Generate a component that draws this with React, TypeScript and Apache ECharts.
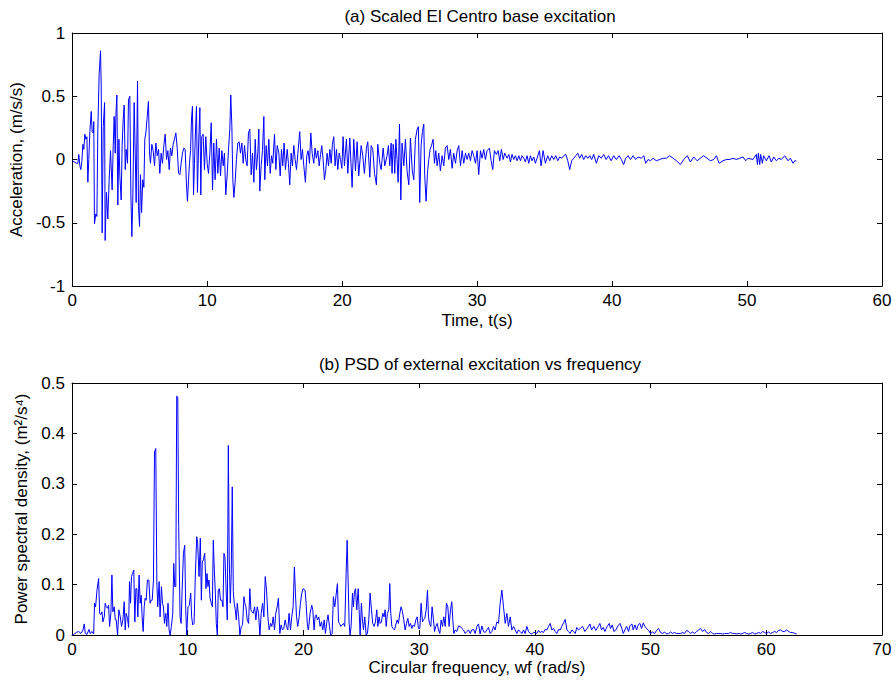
import React, { useEffect, useRef } from "react";
import * as echarts from "echarts";

// (a) Scaled El Centro base excitation: [time (s), acceleration (m/s/s)]
const accStrongPhase: [number, number][] = [
  [0.00,-0.01],[0.17,-0.02],[0.32,-0.03],[0.42,-0.03],[0.49,0.04],[0.57,-0.05],[0.64,-0.08],[0.72,-0.01],[0.79,0.12],[0.86,0.08],[0.94,0.20],[1.01,0.16],[1.09,0.18],[1.16,-0.18],[1.23,0.00],[1.31,0.22],[1.41,0.38],[1.48,0.22],[1.56,0.21],[1.60,0.30],[1.65,-0.51],[1.75,-0.43],[1.83,-0.45],[1.90,0.24],[2.00,0.68],[2.10,0.86],[2.15,0.58],[2.22,-0.58],[2.30,0.26],[2.40,0.45],[2.44,-0.64],[2.54,-0.26],[2.64,-0.47],[2.74,-0.16],[2.84,0.07],[2.96,-0.24],[3.04,0.11],[3.11,0.34],[3.19,0.05],[3.23,0.33],[3.31,0.51],[3.38,-0.36],[3.46,0.16],[3.53,-0.13],[3.63,-0.32],[3.70,0.11],[3.78,0.32],[3.85,0.43],[3.93,-0.08],[4.00,0.08],[4.10,-0.03],[4.17,0.47],[4.27,0.50],[4.35,-0.28],[4.42,-0.61],[4.49,-0.32],[4.59,0.45],[4.67,0.05],[4.74,-0.34],[4.84,0.62],[4.91,-0.37],[4.99,-0.53],[5.06,-0.12],[5.14,-0.42],[5.23,-0.16],[5.31,-0.22],[5.38,0.16],[5.46,0.21],[5.56,0.34],[5.65,0.46],[5.73,0.05],[5.80,-0.03],[5.90,0.12],[6.00,0.07],[6.10,-0.05],[6.20,0.13],[6.30,0.03],[6.40,0.08],[6.49,-0.11],[6.59,0.05],[6.69,-0.03],[6.79,0.11],[6.89,0.20],[6.99,0.00],[7.09,0.07],[7.19,-0.08],[7.28,0.09],[7.38,0.03],[7.48,0.12],[7.58,0.16],[7.68,0.21],[7.78,0.09],[7.88,-0.11],[7.98,-0.12],[8.07,-0.03],[8.17,0.05],[8.27,0.09],[8.37,0.08],[8.47,-0.21],[8.54,-0.33],[8.62,-0.16],[8.69,-0.03],[8.77,0.07],[8.84,0.32],[8.91,0.42],[8.99,-0.28],[9.06,-0.03],[9.14,0.24],[9.21,0.42],[9.28,-0.26],[9.36,0.09],[9.46,0.41],[9.53,-0.28],[9.60,0.18],[9.70,0.20],[9.80,-0.08],[9.90,0.18],[10.00,-0.03],[10.10,-0.11],[10.20,0.05],[10.30,0.29],[10.40,-0.24],[10.49,0.13],[10.59,-0.16],[10.69,0.16],[10.79,-0.11],[10.89,0.09],[10.99,-0.13],[11.09,0.07],[11.19,-0.05],[11.28,0.05],[11.38,-0.28],[11.48,-0.13],[11.58,0.08],[11.68,0.24],[11.75,0.51],[11.83,0.26],[11.90,-0.16],[11.98,-0.30]
];
const accMidPhase: [number, number][] = [
  [12.07,-0.18],[12.17,0.00],[12.27,0.13],[12.37,0.14],[12.47,0.05],[12.57,0.13],[12.67,-0.03],[12.77,0.11],[12.86,0.00],[12.96,-0.05],[13.06,0.21],[13.16,0.24],[13.26,-0.12],[13.36,0.05],[13.46,-0.18],[13.56,0.16],[13.65,-0.08],[13.75,0.05],[13.83,0.24],[13.90,-0.25],[14.00,-0.05],[14.10,0.07],[14.20,0.34],[14.27,-0.16],[14.37,0.11],[14.47,-0.05],[14.57,0.16],[14.67,-0.11],[14.77,0.03],[14.86,-0.03],[14.99,0.20],[15.09,-0.08],[15.19,0.11],[15.31,0.05],[15.41,-0.13],[15.51,0.08],[15.60,-0.05],[15.70,0.13],[15.80,-0.08],[15.93,0.08],[16.02,-0.03],[16.12,-0.20],[16.22,0.05],[16.32,-0.05],[16.42,0.11],[16.52,0.00],[16.62,-0.08],[16.72,0.05],[16.86,0.22],[16.96,0.00],[17.06,0.08],[17.16,-0.05],[17.28,-0.18],[17.38,0.03],[17.48,0.07],[17.58,-0.03],[17.68,0.21],[17.78,0.05],[17.90,-0.03],[17.99,0.09],[18.09,0.01],[18.20,0.07],[18.30,-0.05],[18.40,0.04],[18.49,0.11],[18.59,0.00],[18.69,-0.16],[18.79,-0.08],[18.89,0.05],[18.99,-0.05],[19.09,0.08],[19.19,-0.03],[19.28,0.12],[19.38,0.18],[19.48,-0.05],[19.58,0.08],[19.68,-0.08],[19.78,0.05],[19.88,0.00],[19.98,-0.07],[20.07,0.18],[20.17,-0.05],[20.32,0.16],[20.42,-0.11],[20.57,0.17],[20.74,-0.22],[20.86,0.16],[20.99,-0.09],[21.11,0.14],[21.23,-0.13],[21.41,0.11],[21.53,0.03],[21.65,-0.11],[21.80,0.09],[21.90,0.14],[22.05,-0.14],[22.15,0.11],[22.27,0.08],[22.40,-0.11],[22.54,-0.20],[22.64,0.12],[22.79,-0.03],[22.89,-0.08],[23.04,0.09],[23.16,-0.05],[23.33,0.03],[23.43,0.11],[23.53,-0.05],[23.63,0.13],[23.70,-0.11],[23.78,0.12],[23.83,0.08],[23.90,-0.11],[23.98,0.16],[24.07,0.00],[24.15,-0.18],[24.25,0.28],[24.35,-0.32],[24.44,0.13],[24.57,-0.05],[24.69,0.16],[24.81,-0.09],[24.94,-0.20],[25.06,0.17],[25.19,-0.08],[25.31,-0.16],[25.43,0.16],[25.56,0.24],[25.65,0.26],[25.75,-0.34],[25.85,0.11],[25.95,0.22],[26.05,0.28],[26.12,-0.13],[26.22,-0.33],[26.32,-0.11],[26.42,0.00],[26.52,0.08],[26.62,0.11],[26.74,0.16],[26.84,-0.03],[26.94,0.07]
];
const accTailPhase: [number, number][] = [
  [27.04,-0.05],[27.16,0.05],[27.28,-0.09],[27.41,0.03],[27.53,-0.05],[27.65,0.09],[27.78,0.11],[27.90,0.00],[28.02,0.08],[28.15,-0.07],[28.27,0.05],[28.40,-0.03],[28.52,0.07],[28.64,0.11],[28.77,-0.05],[28.89,0.07],[29.01,-0.03],[29.14,0.05],[29.26,0.00],[29.38,0.05],[29.51,-0.01],[29.63,0.07],[29.75,0.03],[29.88,-0.03],[30.00,0.07],[30.12,-0.12],[30.25,0.07],[30.37,0.01],[30.49,0.08],[30.62,0.00],[30.74,0.07],[30.91,0.09],[31.04,-0.01],[31.16,-0.08],[31.28,0.07],[31.43,0.04],[31.56,0.07],[31.68,-0.01],[31.80,0.08],[31.93,0.00],[32.05,0.05],[32.22,0.01],[32.35,0.04],[32.47,-0.02],[32.59,0.04],[32.72,0.00],[32.84,0.03],[32.96,-0.01],[33.09,0.03],[33.21,-0.01],[33.33,0.03],[33.46,0.01],[33.58,-0.02],[33.70,0.03],[33.83,-0.03],[33.95,0.03],[34.07,-0.01],[34.20,0.02],[34.32,-0.03],[34.44,0.01],[34.62,0.07],[34.74,-0.05],[34.89,0.07],[35.06,-0.03],[35.23,0.03],[35.38,-0.01],[35.53,0.03],[35.68,0.00],[35.83,0.03],[35.98,-0.01],[36.12,0.02],[36.27,0.01],[36.42,0.03],[36.57,0.04],[36.72,-0.01],[36.86,-0.08],[37.01,-0.01],[37.16,0.01],[37.31,0.03],[37.46,0.05],[37.60,0.01],[37.75,0.04],[37.90,0.00],[38.05,0.03],[38.20,0.01],[38.35,0.03],[38.49,0.00],[38.64,0.04],[38.84,-0.03],[39.01,0.03],[39.19,0.01],[39.38,0.04],[39.56,0.00],[39.73,0.03],[39.93,-0.01],[40.12,0.03],[40.32,0.00],[40.52,0.03],[40.69,0.00],[40.86,-0.04],[41.01,0.01],[41.19,0.03],[41.36,0.00],[41.56,0.03],[41.75,0.00],[41.93,0.02],[42.17,0.01],[42.35,0.03],[42.49,-0.03],[42.67,0.00],[42.84,-0.01],[43.04,0.01],[43.28,-0.01],[43.53,0.00],[43.78,0.01],[44.02,0.01],[44.27,0.03],[44.52,0.01],[44.77,-0.01],[45.06,-0.04],[45.31,0.00],[45.58,0.03],[45.80,-0.02],[46.05,0.02],[46.30,-0.01],[46.54,0.01],[46.79,0.03],[47.04,0.01],[47.28,-0.01],[47.53,0.00],[47.73,0.03],[47.93,-0.03],[48.22,-0.01],[48.47,0.00],[48.72,0.00],[48.96,0.01],[49.21,0.00],[49.46,0.01],[49.70,0.02],[49.90,-0.01],[50.07,0.01],[50.44,0.00],[50.69,0.04],[50.77,-0.04],[50.84,0.05],[50.94,-0.04],[51.01,0.04],[51.14,-0.03],[51.23,0.03],[51.43,-0.01],[51.63,0.03],[51.80,-0.02],[51.98,0.02],[52.17,-0.01],[52.37,0.01],[52.54,0.00],[52.79,0.03],[53.04,-0.01],[53.21,0.01],[53.41,-0.03],[53.53,-0.01],[53.65,-0.01]
];

// (b) PSD of external excitation: [circular frequency (rad/s), PSD (m^2/s^4)]
const psdLowBand: [number, number][] = [
  [0,0],[0.14,0.001],[0.37,0.005],[0.57,0.007],[0.78,0.003],[0.95,0.010],[1.06,0.022],[1.15,0.003],[1.29,0.001],[1.47,0.011],[1.58,0.003],[1.72,0.007],[1.87,0.002],[1.95,0.063],[2.04,0.056],[2.16,0.089],[2.30,0.112],[2.39,0.043],[2.47,0.040],[2.59,0.046],[2.67,0.026],[2.79,0.036],[2.87,0.063],[2.96,0.056],[3.07,0.053],[3.16,0.059],[3.25,0.017],[3.36,0.043],[3.45,0.119],[3.53,0.046],[3.65,0.056],[3.74,0.030],[3.82,0.030],[3.94,0.000],[4.05,0.050],[4.17,0.036],[4.28,0.017],[4.40,0.030],[4.51,0.066],[4.60,0.010],[4.68,0.043],[4.80,0.033],[4.89,0.015],[4.97,0.106],[5.06,0.063],[5.14,0.116],[5.23,0.122],[5.34,0.129],[5.43,0.026],[5.52,0.092],[5.60,0.092],[5.69,0.036],[5.80,0.119],[5.89,0.063],[5.98,0.079],[6.06,0.036],[6.15,0.007],[6.24,0.056],[6.32,0.073],[6.41,0.069],[6.52,0.109],[6.64,0.109],[6.75,0.063],[6.84,0.069],[6.93,0.069],[7.04,0.109],[7.13,0.363],[7.24,0.370],[7.33,0.106],[7.41,0.056],[7.53,0.106],[7.61,0.036],[7.73,0.096],[7.82,0.063],[7.90,0.056],[7.99,0.023],[8.10,0.043],[8.19,0.017],[8.30,0.063],[8.39,0.010],[8.48,0.000],[8.59,0.017],[8.71,0.043],[8.79,0.142],[8.88,0.096],[8.97,0.096],[9.05,0.474],[9.14,0.472],[9.22,0.215],[9.34,0.036],[9.43,0.023],[9.51,0.083],[9.63,0.162],[9.74,0.178],[9.83,0.050],[9.91,0.000]
];
const psdMidBand: [number, number][] = [
  [10.03,0.056],[10.14,0.059],[10.26,0.083],[10.34,0.036],[10.43,0.020],[10.55,0.023],[10.66,0.119],[10.78,0.195],[10.86,0.182],[10.98,0.116],[11.09,0.192],[11.18,0.069],[11.26,0.145],[11.35,0.149],[11.47,0.162],[11.58,0.092],[11.67,0.122],[11.75,0.096],[11.84,0.109],[11.93,0.073],[12.04,0.063],[12.13,0.056],[12.21,0.188],[12.30,0.129],[12.39,0.083],[12.47,0.023],[12.56,0.000],[12.64,0.089],[12.73,0.092],[12.84,0.069],[12.96,0.069],[13.05,0.056],[13.13,0.162],[13.22,0.155],[13.30,0.102],[13.42,0.030],[13.51,0.376],[13.59,0.149],[13.68,0.063],[13.76,0.122],[13.85,0.294],[13.94,0.086],[14.02,0.063],[14.11,0.050],[14.20,0.030],[14.28,0.063],[14.40,0.036],[14.51,0.000],[14.63,0.017],[14.74,0.020],[14.86,0.076],[14.94,0.063],[15.03,0.056],[15.14,0.030],[15.26,0.023],[15.37,0.092],[15.46,0.050],[15.55,0.046],[15.66,0.043],[15.78,0.056],[15.89,0.030],[16.01,0.056],[16.12,0.043],[16.24,0.000],[16.35,0.043],[16.47,0.063],[16.58,0.036],[16.70,0.116],[16.81,0.089],[16.93,0.036],[17.04,0.010],[17.16,0.023],[17.27,0.017],[17.39,0.036],[17.50,0.010],[17.61,0.043],[17.73,0.056],[17.84,0.073],[17.96,0.003],[18.07,0.020],[18.19,0.010],[18.30,0.013],[18.42,0.030],[18.53,0.017],[18.65,0.010],[18.76,0.043],[18.88,0.010],[18.99,0.036],[19.11,0.056],[19.22,0.135],[19.31,0.083],[19.40,0.036],[19.51,0.017],[19.63,0.036],[19.74,0.063],[19.86,0.083],[19.97,0.092]
];
const psdHighBand: [number, number][] = [
  [20.14,0.089],[20.23,0.063],[20.35,0.017],[20.43,0.010],[20.58,0.043],[20.72,0.059],[20.81,0.050],[20.92,0.010],[21.01,0.036],[21.10,0.040],[21.21,0.030],[21.33,0.036],[21.44,0.017],[21.56,0.026],[21.67,0.010],[21.79,0.030],[21.90,0.003],[22.02,0.026],[22.13,0.040],[22.25,0.017],[22.36,0.000],[22.48,0.003],[22.59,0.076],[22.71,0.056],[22.82,0.079],[22.94,0.102],[23.03,0.026],[23.11,0.023],[23.23,0.017],[23.34,0.020],[23.46,0.023],[23.57,0.017],[23.69,0.122],[23.78,0.188],[23.86,0.109],[23.95,0.023],[24.03,0.000],[24.12,0.017],[24.24,0.083],[24.32,0.056],[24.41,0.086],[24.50,0.092],[24.61,0.050],[24.73,0.092],[24.81,0.050],[24.90,0.000],[25.01,0.063],[25.10,0.030],[25.19,0.010],[25.30,0.036],[25.42,0.000],[25.53,0.003],[25.65,0.030],[25.76,0.083],[25.88,0.050],[25.99,0.023],[26.11,0.017],[26.22,0.026],[26.34,0.050],[26.43,0.017],[26.54,0.036],[26.63,0.023],[26.74,0.026],[26.86,0.043],[26.97,0.036],[27.06,0.050],[27.15,0.017],[27.26,0.043],[27.38,0.050],[27.46,0.102],[27.55,0.043],[27.64,0.017],[27.75,0.013],[27.87,0.010],[27.98,0.020],[28.10,0.030],[28.21,0.023],[28.33,0.043],[28.44,0.056],[28.56,0.046],[28.67,0.030],[28.79,0.010],[28.91,0.023],[29.02,0.033],[29.14,0.017],[29.25,0.023],[29.37,0.013],[29.48,0.020],[29.60,0.017],[29.71,0.030],[29.83,0.036],[29.94,0.013],[30.06,0.013],[30.17,0.063],[30.29,0.026],[30.37,0.030],[30.49,0.033],[30.61,0.050],[30.72,0.089],[30.81,0.036],[30.89,0.023],[31.01,0.017],[31.12,0.056],[31.24,0.030],[31.33,0.007],[31.44,0.017],[31.56,0.023],[31.67,0.010],[31.79,0.003],[31.90,0.030],[32.02,0.017],[32.13,0.036],[32.25,0.017],[32.36,0.063],[32.48,0.056],[32.59,0.017],[32.71,0.050],[32.82,0.066],[32.91,0.030],[33.00,0.003],[33.11,0.010],[33.26,0.007],[33.40,0.018],[33.55,0.017],[33.69,0.013],[33.83,0.010],[33.98,0.003],[34.12,0.007],[34.27,0.010],[34.41,0.003],[34.55,0.010],[34.70,0.011],[34.84,0.003],[34.99,0.017],[35.13,0.022],[35.27,0.002],[35.42,0.018],[35.56,0.007],[35.71,0.005],[35.85,0.010],[35.99,0.015],[36.14,0.003],[36.28,0.007],[36.43,0.017],[36.57,0.010],[36.71,0.026],[36.86,0.023],[37.00,0.063],[37.15,0.089],[37.29,0.056],[37.44,0.023],[37.58,0.043],[37.72,0.017],[37.87,0.036],[38.01,0.010],[38.16,0.017],[38.30,0.010],[38.44,0.003],[38.59,0.010],[38.73,0.007],[38.88,0.003],[39.02,0.010],[39.16,0.003],[39.31,0.017],[39.45,0.007],[39.60,0.003],[39.74,0.002],[39.88,0.005],[40.03,0.005],[40.17,0.003],[40.32,0.009],[40.46,0.005],[40.61,0.007],[40.75,0.005],[40.89,0.011],[41.04,0.010],[41.18,0.017],[41.33,0.023],[41.47,0.010],[41.61,0.013],[41.76,0.007],[41.90,0.003],[42.05,0.011],[42.19,0.010],[42.33,0.017],[42.48,0.024],[42.62,0.031],[42.77,0.010],[42.91,0.007],[43.05,0.003],[43.20,0.010],[43.34,0.007],[43.49,0.003],[43.63,0.015],[43.78,0.010],[43.92,0.013]
];
const psdTailBand: [number, number][] = [
  [44.12,0.017],[44.32,0.007],[44.52,0.013],[44.76,0.022],[44.90,0.010],[45.10,0.017],[45.27,0.009],[45.48,0.017],[45.62,0.023],[45.76,0.010],[45.91,0.015],[46.05,0.007],[46.25,0.017],[46.43,0.023],[46.54,0.013],[46.69,0.020],[46.83,0.007],[47.00,0.010],[47.18,0.018],[47.35,0.023],[47.52,0.013],[47.64,0.003],[47.78,0.010],[47.93,0.017],[48.10,0.007],[48.21,0.018],[48.39,0.022],[48.50,0.010],[48.65,0.020],[48.79,0.010],[48.93,0.020],[49.08,0.023],[49.22,0.013],[49.37,0.024],[49.51,0.017],[49.65,0.013],[49.83,0.009],[50.00,0.003],[50.17,0.006],[50.35,0.003],[50.52,0.009],[50.69,0.013],[50.86,0.005],[51.04,0.003],[51.21,0.006],[51.38,0.002],[51.56,0.003],[51.73,0.006],[51.90,0.003],[52.07,0.005],[52.25,0.003],[52.42,0.003],[52.59,0.003],[52.77,0.005],[52.94,0.003],[53.11,0.009],[53.29,0.007],[53.46,0.003],[53.63,0.006],[53.80,0.003],[53.98,0.007],[54.15,0.010],[54.32,0.013],[54.50,0.007],[54.67,0.011],[54.84,0.005],[55.01,0.003],[55.19,0.007],[55.36,0.003],[55.53,0.002],[55.71,0.003],[55.88,0.003],[56.05,0.003],[56.22,0.002],[56.40,0.003],[56.57,0.003],[56.74,0.003],[56.92,0.005],[57.09,0.003],[57.26,0.003],[57.44,0.002],[57.61,0.003],[57.78,0.002],[57.95,0.003],[58.13,0.005],[58.30,0.003],[58.47,0.002],[58.65,0.003],[58.82,0.005],[58.99,0.002],[59.16,0.003],[59.34,0.005],[59.51,0.003],[59.68,0.007],[59.86,0.005],[60.03,0.003],[60.20,0.006],[60.37,0.003],[60.55,0.005],[60.72,0.007],[60.89,0.005],[61.07,0.009],[61.24,0.010],[61.41,0.007],[61.59,0.007],[61.76,0.010],[61.93,0.007],[62.10,0.005],[62.28,0.005],[62.48,0.003],[62.62,0.002]
];

const titleTop = "(a) Scaled El Centro base excitation";
const titleBottom = "(b) PSD of external excitation vs frequency";
const xNameTop = "Time, t(s)";
const yNameTop = "Acceleration, (m/s/s)";
const xNameBottom = "Circular frequency, wf (rad/s)";
const yNameBottom = "Power spectral density, (m\u00B2/s\u2074)";

const FONT = "'Liberation Sans', Arial, Helvetica, sans-serif";
const FS = 17;

export default function App() {
  const ref = useRef<HTMLDivElement>(null);
  useEffect(() => {
    if (!ref.current) return;
    const chart = echarts.init(ref.current, undefined, { renderer: "svg" });
    const line = { show: true, onZero: false, lineStyle: { color: "#000", width: 1 } };
    const tick = { show: true, inside: true, length: 5, lineStyle: { color: "#000", width: 1 } };
    const xLabel = { color: "#000", fontSize: FS, fontFamily: FONT, margin: 6 };
    const yLabel = { color: "#000", fontSize: FS, fontFamily: FONT, margin: 7 };
    const nameStyle = { color: "#000", fontSize: FS, fontFamily: FONT };
    const mkX = (grid: number, min: number, max: number, pos: "top" | "bottom", name: string, gap: number) => ({
      type: "value", gridIndex: grid, min, max, interval: 10, position: pos,
      axisLine: line, axisTick: tick, splitLine: { show: false },
      axisLabel: pos === "bottom" ? xLabel : { show: false },
      name, nameLocation: "middle", nameGap: gap, nameTextStyle: nameStyle,
    });
    const mkY = (grid: number, min: number, max: number, interval: number, pos: "left" | "right", name: string, gap: number) => ({
      type: "value", gridIndex: grid, min, max, interval, position: pos,
      axisLine: line, axisTick: tick, splitLine: { show: false },
      axisLabel: pos === "left" ? yLabel : { show: false },
      name, nameLocation: "middle", nameGap: gap, nameRotate: 90, nameTextStyle: nameStyle,
    });
    const titleStyle = { fontSize: FS, fontWeight: "normal", color: "#000", fontFamily: FONT };
    chart.setOption({
      animation: false,
      backgroundColor: "#fff",
      title: [
        { text: titleTop, left: 475, top: 3, textAlign: "center", textStyle: titleStyle },
        { text: titleBottom, left: 475, top: 351, textAlign: "center", textStyle: titleStyle },
      ],
      grid: [
        { left: 72, top: 33, width: 810, height: 253, show: false },
        { left: 72, top: 383, width: 810, height: 252, show: false },
      ],
      xAxis: [
        mkX(0, 0, 60, "bottom", xNameTop, 26),
        mkX(0, 0, 60, "top", "", 0),
        mkX(1, 0, 70, "bottom", xNameBottom, 24),
        mkX(1, 0, 70, "top", "", 0),
      ],
      yAxis: [
        mkY(0, -1, 1, 0.5, "left", yNameTop, 42),
        mkY(0, -1, 1, 0.5, "right", "", 0),
        mkY(1, 0, 0.5, 0.1, "left", yNameBottom, 41),
        mkY(1, 0, 0.5, 0.1, "right", "", 0),
      ],
      series: [
        {
          type: "line", xAxisIndex: 0, yAxisIndex: 0, showSymbol: false, symbol: "none",
          lineStyle: { color: "#0000ff", width: 1 },
          data: [...accStrongPhase, ...accMidPhase, ...accTailPhase],
        },
        {
          type: "line", xAxisIndex: 2, yAxisIndex: 2, showSymbol: false, symbol: "none",
          lineStyle: { color: "#0000ff", width: 1 },
          data: [...psdLowBand, ...psdMidBand, ...psdHighBand, ...psdTailBand],
        },
      ],
    });
    return () => chart.dispose();
  }, []);
  return <div ref={ref} style={{ position: "absolute", left: 0, top: 0, width: 896, height: 688, background: "#fff" }} />;
}
